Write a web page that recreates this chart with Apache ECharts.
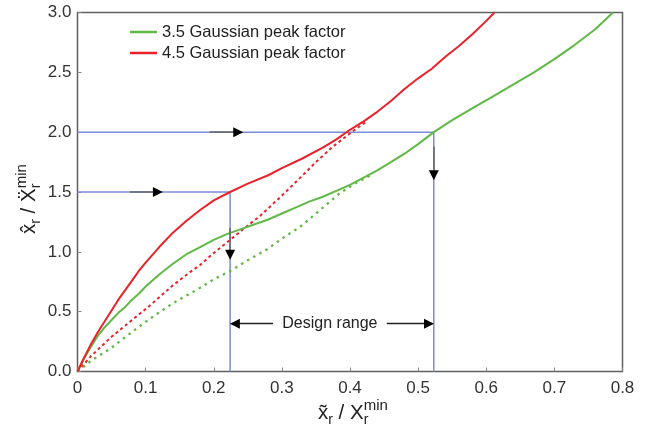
<!DOCTYPE html>
<html>
<head>
<meta charset="utf-8">
<script src="https://cdn.jsdelivr.net/npm/echarts@6/dist/echarts.min.js"></script>
<style>
  html, body { margin: 0; padding: 0; background: #fff; }
  #chart { width: 650px; height: 436px; }
</style>
</head>
<body>
<div id="chart"></div>
<script>
// Peak response ratio curves for two Gaussian peak factors
const xTickLabels = ['0', '0.1', '0.2', '0.3', '0.4', '0.5', '0.6', '0.7', '0.8'];
const yTickLabels = ['0.0', '0.5', '1.0', '1.5', '2.0', '2.5', '3.0'];

const seriesNames = ['3.5 Gaussian peak factor', '4.5 Gaussian peak factor'];

// 4.5 peak factor, solid curve
const redSolidX = [0, 0.01, 0.02, 0.03, 0.04, 0.05, 0.06, 0.07, 0.08, 0.09, 0.10, 0.12, 0.14, 0.16, 0.18, 0.20, 0.224, 0.25, 0.28, 0.30, 0.33, 0.36, 0.38, 0.40, 0.42, 0.44, 0.46, 0.48, 0.50, 0.52, 0.54, 0.56, 0.58, 0.60, 0.612];
const redSolidY = [0, 0.12, 0.23, 0.33, 0.42, 0.51, 0.60, 0.68, 0.76, 0.84, 0.91, 1.04, 1.16, 1.26, 1.35, 1.43, 1.50, 1.57, 1.64, 1.70, 1.78, 1.87, 1.94, 2.02, 2.09, 2.17, 2.26, 2.36, 2.45, 2.53, 2.63, 2.72, 2.82, 2.93, 3.0];

// 3.5 peak factor, solid curve
const greenSolidX = [0, 0.01, 0.02, 0.03, 0.04, 0.05, 0.06, 0.07, 0.08, 0.09, 0.10, 0.12, 0.14, 0.16, 0.18, 0.20, 0.22, 0.24, 0.26, 0.28, 0.30, 0.32, 0.34, 0.36, 0.38, 0.40, 0.42, 0.44, 0.46, 0.48, 0.50, 0.523, 0.55, 0.58, 0.61, 0.64, 0.67, 0.70, 0.73, 0.76, 0.786];
const greenSolidY = [0, 0.11, 0.21, 0.30, 0.37, 0.43, 0.49, 0.54, 0.60, 0.65, 0.71, 0.81, 0.90, 0.98, 1.04, 1.10, 1.15, 1.19, 1.23, 1.27, 1.32, 1.37, 1.42, 1.46, 1.51, 1.56, 1.62, 1.68, 1.75, 1.82, 1.90, 2.00, 2.10, 2.20, 2.30, 2.40, 2.50, 2.61, 2.73, 2.86, 3.0];

// Dotted companions
const redDotX = [0, 0.02, 0.05, 0.08, 0.106, 0.14, 0.165, 0.18, 0.20, 0.224, 0.25, 0.268, 0.30, 0.327, 0.35, 0.375, 0.40, 0.422];
const redDotY = [0, 0.13, 0.29, 0.43, 0.55, 0.72, 0.83, 0.89, 0.99, 1.10, 1.22, 1.30, 1.47, 1.62, 1.75, 1.88, 1.99, 2.08];
const greenDotX = [0, 0.02, 0.048, 0.08, 0.106, 0.14, 0.165, 0.18, 0.20, 0.224, 0.25, 0.278, 0.30, 0.327, 0.35, 0.385, 0.41, 0.43];
const greenDotY = [0, 0.09, 0.19, 0.33, 0.44, 0.57, 0.65, 0.70, 0.77, 0.84, 0.93, 1.02, 1.11, 1.21, 1.32, 1.49, 1.58, 1.64];

// Design guide levels and the resulting range bounds
const levelLow = 1.5, levelHigh = 2.0;
const rangeLow = 0.224, rangeHigh = 0.523;
const rangeLabelY = 0.4;

// Arrow shafts [x1, y1, x2, y2] and heads [x, y, rotateDeg]
const arrowShafts = [
  [0.194, 2.0, 0.236, 2.0],
  [0.077, 1.5, 0.118, 1.5],
  [0.224, 1.2, 0.224, 0.975],
  [0.523, 1.88, 0.523, 1.64]
];
const rangeShafts = [
  [0.287, 0.4, 0.231, 0.4],
  [0.454, 0.4, 0.516, 0.4]
];
const arrowHeads = [
  [0.236, 2.0, -90],
  [0.118, 1.5, -90],
  [0.224, 0.975, 180],
  [0.523, 1.64, 180],
  [0.231, 0.4, 90],
  [0.516, 0.4, -90]
];

const zip = (xs, ys) => xs.map((x, i) => [x, ys[i]]);

const FONT = '"Liberation Sans", Arial, Helvetica, sans-serif';
const measureCtx = document.createElement('canvas').getContext('2d');
function textWidth(t, size) {
  measureCtx.font = size + 'px ' + FONT;
  return measureCtx.measureText(t).width;
}

// Lay out a math-like label: pieces with optional sub/superscript offsets.
// "over" pieces start at the same x as the previous piece (stacked sub/sup).
function mathLabel(pieces) {
  let cursor = 0, lastStart = 0;
  const children = [];
  pieces.forEach(p => {
    const w = textWidth(p.t, p.s);
    const start = p.over ? lastStart : cursor;
    cursor = Math.max(cursor, start + w);
    lastStart = start;
    children.push({
      type: 'text',
      x: start,
      y: p.dy || 0,
      style: {
        text: p.t,
        font: p.s + 'px ' + FONT,
        fill: '#222',
        align: 'left',
        verticalAlign: 'middle'
      }
    });
  });
  return children;
}

const xTitle = mathLabel([
  { t: 'x\u0303', s: 20.5 },
  { t: 'r', s: 14, dy: 7 },
  { t: ' / ', s: 20.5 },
  { t: 'X', s: 20.5 },
  { t: 'r', s: 14, dy: 7 },
  { t: 'min', s: 15, dy: -8, over: true }
]);
const yTitle = mathLabel([
  { t: 'x\u0302', s: 20.5, dy: -6.6 },
  { t: 'r', s: 14, dy: 0.4 },
  { t: ' / ', s: 20.5, dy: -6.6 },
  { t: 'X\u0308', s: 20.5, dy: -6.6 },
  { t: 'r', s: 14, dy: 0.4 },
  { t: 'min', s: 15, dy: -14.6, over: true }
]);

const chart = echarts.init(document.getElementById('chart'), null, { renderer: 'canvas' });

const guideStyle = { color: '#7d8cd6', width: 1.5 };

chart.setOption({
  animation: false,
  backgroundColor: '#fff',
  textStyle: { fontFamily: FONT },
  grid: {
    left: 77.5, right: 27.5, top: 12.5, bottom: 64.5,
    show: true, borderColor: '#606060', borderWidth: 1.5
  },
  legend: {
    data: seriesNames,
    orient: 'vertical',
    left: 130, top: 23.5,
    padding: 0,
    icon: 'rect',
    itemWidth: 27, itemHeight: 2.5, itemGap: 4,
    textStyle: { fontSize: 16.5, color: '#222', fontFamily: FONT }
  },
  xAxis: {
    type: 'value', min: 0, max: 0.8, interval: 0.1,
    axisLine: { show: false },
    axisTick: { show: true, inside: true, length: 4, lineStyle: { color: '#888' } },
    splitLine: { show: false },
    axisLabel: {
      fontSize: 17, color: '#333', margin: 8, fontFamily: FONT,
      formatter: (v, i) => xTickLabels[i]
    }
  },
  yAxis: {
    type: 'value', min: 0, max: 3, interval: 0.5,
    axisLine: { show: false },
    axisTick: { show: true, inside: true, length: 4, lineStyle: { color: '#888' } },
    splitLine: { show: false },
    axisLabel: {
      fontSize: 17, color: '#333', margin: 6, fontFamily: FONT,
      formatter: (v, i) => yTickLabels[i]
    }
  },
  series: [
    {
      name: 'guideHigh', type: 'line', silent: true, symbol: 'none', z: 1,
      lineStyle: guideStyle,
      data: [[0, levelHigh], [rangeHigh, levelHigh], [rangeHigh, 0]]
    },
    {
      name: 'guideLow', type: 'line', silent: true, symbol: 'none', z: 1,
      lineStyle: guideStyle,
      data: [[0, levelLow], [rangeLow, levelLow], [rangeLow, 0]],
      markLine: {
        silent: true, symbol: ['none', 'none'], animation: false,
        label: { show: false },
        lineStyle: { type: 'solid', color: '#666', width: 1.5 },
        data: arrowShafts.map(s => [{ coord: [s[0], s[1]] }, { coord: [s[2], s[3]] }])
          .concat(rangeShafts.map(s => [
            { coord: [s[0], s[1]], lineStyle: { color: '#222', type: 'solid', width: 1.3 } },
            { coord: [s[2], s[3]] }
          ]))
      },
      markPoint: {
        silent: true, animation: false,
        symbol: 'triangle', symbolSize: [10, 10],
        itemStyle: { color: '#000' },
        label: { show: false },
        data: arrowHeads.map(h => ({ coord: [h[0], h[1]], symbolRotate: h[2] })).concat([{
          coord: [(0.287 + 0.454) / 2, rangeLabelY],
          symbol: 'circle', symbolSize: 1,
          itemStyle: { color: 'rgba(0,0,0,0)' },
          label: {
            show: true, position: 'inside', formatter: 'Design range',
            fontSize: 16, color: '#222', fontFamily: FONT
          }
        }])
      }
    },
    {
      name: 'redDot', type: 'line', silent: true, symbol: 'none', z: 2,
      lineStyle: { color: '#e8232a', width: 2, type: [3, 3] },
      data: zip(redDotX, redDotY)
    },
    {
      name: 'greenDot', type: 'line', silent: true, symbol: 'none', z: 2,
      lineStyle: { color: '#60b946', width: 2.3, type: [2.5, 4.5] },
      data: zip(greenDotX, greenDotY)
    },
    {
      name: seriesNames[0], type: 'line', symbol: 'none', z: 3,
      itemStyle: { color: '#60b946' },
      lineStyle: { color: '#60b946', width: 2 },
      data: zip(greenSolidX, greenSolidY)
    },
    {
      name: seriesNames[1], type: 'line', symbol: 'none', z: 3,
      itemStyle: { color: '#e8232a' },
      lineStyle: { color: '#e8232a', width: 2 },
      data: zip(redSolidX, redSolidY)
    }
  ],
  graphic: [
    { type: 'group', x: 318, y: 413.4, children: xTitle },
    { type: 'group', x: 36, y: 234, rotation: Math.PI / 2, children: yTitle }
  ]
});
</script>
</body>
</html>
